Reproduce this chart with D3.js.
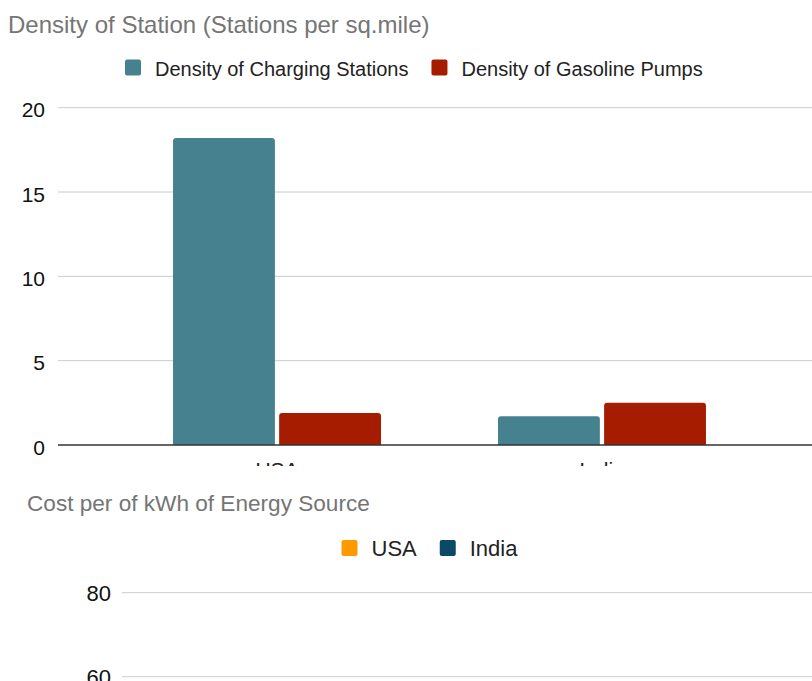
<!DOCTYPE html>
<html>
<head>
<meta charset="utf-8">
<script src="https://cdn.jsdelivr.net/npm/d3@7"></script>
<style>
  html, body { margin: 0; padding: 0; background: #fff; overflow: hidden; }
  svg { display: block; font-family: "Liberation Sans", Arial, sans-serif; }
</style>
</head>
<body>
<svg id="chart" width="830" height="681"></svg>
<script>
// ---- Density of stations ----
const densityCountries = ["USA", "India"];
const densitySeries = ["Density of Charging Stations", "Density of Gasoline Pumps"];
const chargingDensity = [18.2, 1.7];
const gasolineDensity = [1.9, 2.5];
const densityTicks = [0, 5, 10, 15, 20];

// ---- Cost per kWh ----
const costSeries = ["USA", "India"];
const costTicks = [0, 20, 40, 60, 80];

const densityColors = ["#45818e", "#a61c00"];
const costColors = ["#ff9900", "#0b4a66"];

const svg = d3.select("#chart");

// rounded-top bar path
function barPath(x, y, w, h, r) {
  r = Math.min(r, h, w / 2);
  return `M${x},${y + h}V${y + r}Q${x},${y} ${x + r},${y}H${x + w - r}Q${x + w},${y} ${x + w},${y + r}V${y + h}Z`;
}

// swatch + label legend laid out left to right
function legend(g, names, colors, startX, baseline, fontSize) {
  let x = startX;
  names.forEach((n, i) => {
    g.append("rect").attr("x", x).attr("y", baseline - 16).attr("width", 16).attr("height", 16)
      .attr("rx", 2).attr("fill", colors[i]);
    const t = g.append("text").attr("x", x + 30).attr("y", baseline)
      .attr("font-size", fontSize).attr("fill", "#222").text(n);
    x += 30 + t.node().getComputedTextLength() + 23;
  });
}

// ===== density chart =====
const densityG = svg.append("g");
densityG.append("text").attr("x", 8).attr("y", 33)
  .attr("font-size", 24).attr("fill", "#757575")
  .text("Density of Station (Stations per sq.mile)");

legend(densityG, densitySeries, densityColors, 125, 75.5, 20);

const y1 = d3.scaleLinear().domain([0, 20]).range([445, 107.7]);
const x1 = d3.scaleBand().domain(densityCountries).range([58, 821])
  .paddingInner(0.36).paddingOuter(0.354);
const xs1 = d3.scaleBand().domain(densitySeries).range([0, x1.bandwidth()]).paddingInner(0.04);

densityG.append("g").selectAll("line").data(densityTicks.filter(d => d !== 0)).join("line")
  .attr("x1", 58).attr("x2", 830).attr("y1", d => y1(d)).attr("y2", d => y1(d))
  .attr("stroke", "#cccccc").attr("stroke-width", 1);

densityG.append("g").selectAll("text").data(densityTicks).join("text")
  .attr("x", 45).attr("y", d => y1(d) + 9.6).attr("text-anchor", "end")
  .attr("font-size", 21).attr("fill", "#111").text(d => d);

const rows = densityCountries.map((c, i) => ({ c, vals: [chargingDensity[i], gasolineDensity[i]] }));
const grp = densityG.append("g").selectAll("g").data(rows).join("g")
  .attr("transform", d => `translate(${x1(d.c)},0)`);
grp.selectAll("path").data(d => d.vals.map((v, j) => ({ v, s: densitySeries[j], j }))).join("path")
  .attr("d", d => barPath(xs1(d.s), y1(d.v), xs1.bandwidth(), y1(0) - y1(d.v), 3))
  .attr("fill", d => densityColors[d.j]);

densityG.append("line").attr("x1", 58).attr("x2", 830).attr("y1", y1(0)).attr("y2", y1(0))
  .attr("stroke", "#333").attr("stroke-width", 1.5);

densityG.append("g").selectAll("text").data(densityCountries).join("text")
  .attr("x", d => x1(d) + x1.bandwidth() / 2).attr("y", 477)
  .attr("text-anchor", "middle").attr("font-size", 21).attr("fill", "#222").text(d => d);

// ===== cost chart =====
const costG = svg.append("g");
costG.append("rect").attr("x", 0).attr("y", 466).attr("width", 830).attr("height", 215).attr("fill", "#fff");
costG.append("text").attr("x", 27).attr("y", 511)
  .attr("font-size", 22.6).attr("fill", "#757575")
  .text("Cost per of kWh of Energy Source");

legend(costG, costSeries, costColors, 341.5, 556, 22);

const y2 = d3.scaleLinear().domain([60, 80]).range([676.7, 592.7]);
costG.append("g").selectAll("line").data(costTicks).join("line")
  .attr("x1", 122).attr("x2", 830).attr("y1", d => y2(d)).attr("y2", d => y2(d))
  .attr("stroke", "#cccccc").attr("stroke-width", 1);
costG.append("g").selectAll("text").data(costTicks).join("text")
  .attr("x", 111).attr("y", d => y2(d) + 8).attr("text-anchor", "end")
  .attr("font-size", 22).attr("fill", "#111").text(d => d);
</script>
</body>
</html>
